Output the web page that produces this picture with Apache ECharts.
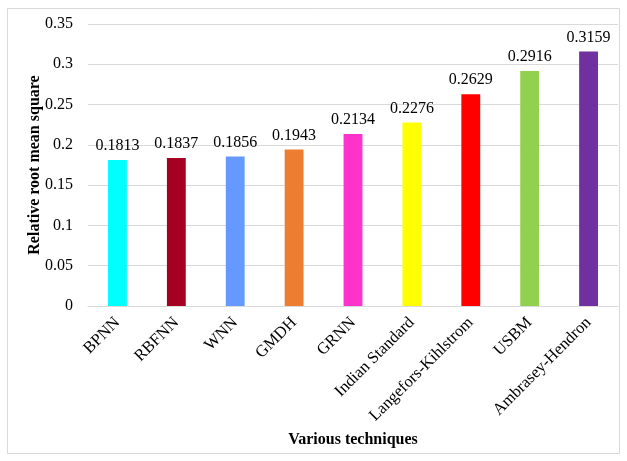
<!DOCTYPE html>
<html>
<head>
<meta charset="utf-8">
<script src="https://cdn.jsdelivr.net/npm/echarts@6/dist/echarts.min.js"></script>
<style>
  html, body { margin: 0; padding: 0; background: #fff; }
  #chart { width: 627px; height: 461px; }
</style>
</head>
<body>
<div id="chart"></div>
<script>
// Techniques compared and their relative root mean square error
const techniques = ['BPNN', 'RBFNN', 'WNN', 'GMDH', 'GRNN', 'Indian Standard', 'Langefors-Kihlstrom', 'USBM', 'Ambrasey-Hendron'];
const rmsValues = [0.1813, 0.1837, 0.1856, 0.1943, 0.2134, 0.2276, 0.2629, 0.2916, 0.3159];
const barColors = ['#00FFFF', '#A50021', '#6699FF', '#ED7D31', '#FF33CC', '#FFFF00', '#FF0000', '#92D050', '#7030A0'];
const yTicks = { min: 0, max: 0.35, step: 0.05 };

const serif = '"Liberation Serif", "Times New Roman", serif';
const chart = echarts.init(document.getElementById('chart'));

chart.setOption({
  animation: false,
  backgroundColor: '#fff',
  graphic: [{
    type: 'rect',
    shape: { x: 7.5, y: 8.5, width: 612, height: 445 },
    style: { fill: 'none', stroke: '#d9d9d9', lineWidth: 1 },
    silent: true
  }],
  grid: { left: 88, right: 9, top: 24, bottom: 155 },
  xAxis: {
    type: 'category',
    data: techniques,
    name: 'Various techniques',
    nameLocation: 'middle',
    nameGap: 126,
    nameMoveOverlap: false,
    nameTextStyle: { fontFamily: serif, fontWeight: 'bold', fontSize: 16, color: '#000' },
    axisLine: { lineStyle: { color: '#d9d9d9', width: 1 } },
    axisTick: { show: false },
    axisLabel: { rotate: 45, margin: 14, fontFamily: serif, fontSize: 16.5, color: '#000', interval: 0 }
  },
  yAxis: {
    type: 'value',
    min: yTicks.min,
    max: yTicks.max,
    interval: yTicks.step,
    name: 'Relative root mean square',
    nameLocation: 'middle',
    nameGap: 45,
    nameMoveOverlap: false,
    nameTextStyle: { fontFamily: serif, fontWeight: 'bold', fontSize: 16, color: '#000' },
    axisLine: { show: false },
    axisTick: { show: false },
    splitLine: { lineStyle: { color: '#d9d9d9', width: 1 } },
    axisLabel: { fontFamily: serif, fontSize: 16, color: '#000', margin: 15 }
  },
  series: [{
    type: 'bar',
    data: rmsValues.map((v, i) => ({ value: v, itemStyle: { color: barColors[i] } })),
    barWidth: '32%',
    label: {
      show: true,
      position: 'top',
      distance: 6,
      fontFamily: serif,
      fontSize: 16,
      color: '#000',
      formatter: p => p.value.toFixed(4)
    }
  }]
});
</script>
</body>
</html>
